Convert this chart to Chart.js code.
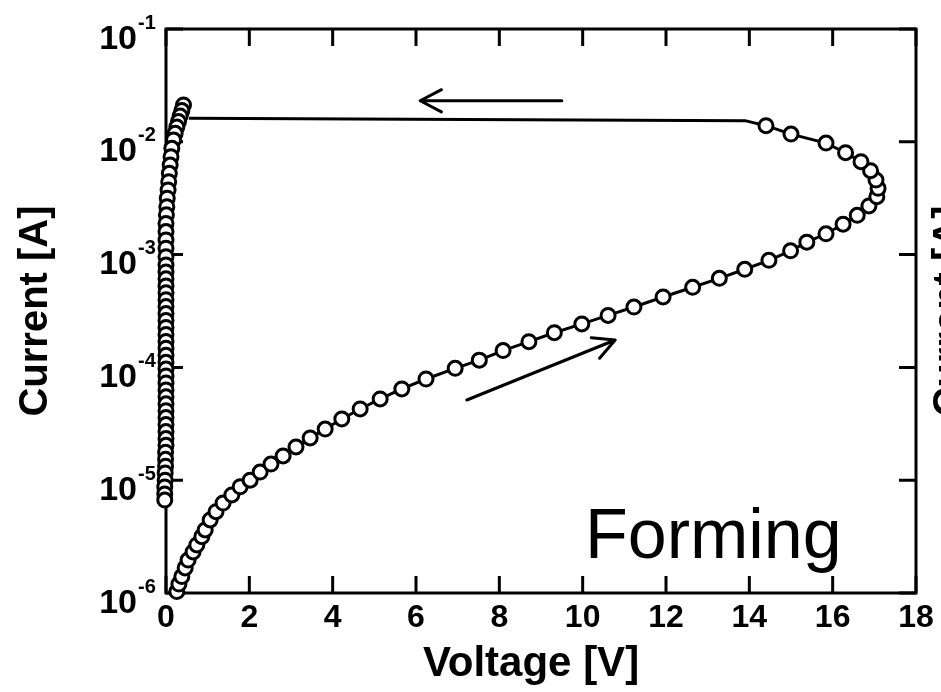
<!DOCTYPE html>
<html lang="en">
<head>
<meta charset="UTF-8">
<title>Forming I-V</title>
<script src="https://cdn.jsdelivr.net/npm/chart.js"></script>
<style>
  body { margin: 0; background: #ffffff; }
  canvas { display: block; }
</style>
</head>
<body>
<canvas id="ivChart" width="941" height="692"></canvas>
<script>
// forward sweep, open circles: 0 V up to ~17 V, then bending back to 14.4 V
const fwdVoltage = [0.26, 0.31, 0.38, 0.46, 0.53, 0.65, 0.74, 0.86, 0.94, 1.06,
  1.20, 1.37, 1.58, 1.78, 2.02, 2.26, 2.52, 2.81, 3.12, 3.46,
  3.82, 4.22, 4.66, 5.14, 5.66, 6.24, 6.94, 7.52, 8.09, 8.71,
  9.32, 9.98, 10.61, 11.23, 11.93, 12.64, 13.28, 13.89, 14.47, 14.99,
  15.38, 15.84, 16.25, 16.59, 16.87, 17.06, 17.09, 17.04, 16.91, 16.68,
  16.31, 15.84, 15.00, 14.40];
const fwdCurrent = [1.03e-6, 1.20e-6, 1.40e-6, 1.67e-6, 1.96e-6, 2.31e-6, 2.67e-6, 3.16e-6, 3.62e-6, 4.44e-6,
  5.26e-6, 6.28e-6, 7.40e-6, 8.75e-6, 1.00e-5, 1.18e-5, 1.39e-5, 1.64e-5, 1.97e-5, 2.37e-5,
  2.84e-5, 3.49e-5, 4.28e-5, 5.25e-5, 6.44e-5, 7.89e-5, 9.82e-5, 1.16e-4, 1.41e-4, 1.69e-4,
  2.03e-4, 2.43e-4, 2.89e-4, 3.43e-4, 4.21e-4, 5.13e-4, 6.16e-4, 7.41e-4, 8.90e-4, 1.08e-3,
  1.29e-3, 1.53e-3, 1.86e-3, 2.23e-3, 2.70e-3, 3.26e-3, 3.87e-3, 4.58e-3, 5.55e-3, 6.67e-3,
  8.00e-3, 9.75e-3, 1.17e-2, 1.39e-2];

// compliance line back towards 0 V (no markers)
const retVoltage = [14.40, 13.90, 0.55];
const retCurrent = [1.39e-2, 1.54e-2, 1.62e-2];

// sweep near 0 V, stacked circles falling from 2e-2 down to ~7e-6
const lowVoltage = [0.42, 0.38, 0.34, 0.30, 0.26, 0.22, 0.18, 0.14, 0.12, 0.10,
  0.08, 0.065, 0.05, 0.03, 0.02, 0.01, 0.0, 0.0, 0.0, 0.0,
  0.0, 0.0, 0.0, 0.0, 0.0, 0.0, 0.0, 0.0, 0.0, 0.0,
  0.0, 0.0, 0.0, 0.0, 0.0, 0.0, 0.0, 0.0, 0.0, 0.0,
  0.0, 0.0, 0.0, 0.0, 0.0, 0.0, 0.0, 0.0, -0.01, -0.01,
  -0.01, -0.02, -0.02, -0.03, -0.03, -0.03];
const lowCurrent = [2.12e-2, 1.89e-2, 1.69e-2, 1.51e-2, 1.35e-2, 1.19e-2, 1.04e-2, 8.75e-3, 7.38e-3, 6.22e-3,
  5.26e-3, 4.43e-3, 3.74e-3, 3.16e-3, 2.66e-3, 2.25e-3, 1.89e-3, 1.60e-3, 1.35e-3, 1.14e-3,
  9.58e-4, 8.09e-4, 7.02e-4, 6.10e-4, 5.28e-4, 4.59e-4, 3.98e-4, 3.46e-4, 3.00e-4, 2.61e-4,
  2.26e-4, 1.96e-4, 1.70e-4, 1.48e-4, 1.28e-4, 1.11e-4, 9.66e-5, 8.39e-5, 7.28e-5, 6.32e-5,
  5.48e-5, 4.76e-5, 4.13e-5, 3.59e-5, 3.11e-5, 2.70e-5, 2.34e-5, 2.04e-5, 1.77e-5, 1.53e-5,
  1.33e-5, 1.16e-5, 1.00e-5, 8.71e-6, 7.55e-6, 6.67e-6];

const xTicks = [0, 2, 4, 6, 8, 10, 12, 14, 16, 18];
const yExponents = [-6, -5, -4, -3, -2, -1];

// arrows, in data units [V, A]
const arrows = [
  { from: [9.5, 2.31e-2], to: [6.1, 2.31e-2] },
  { from: [7.22, 5.14e-5], to: [10.78, 1.75e-4] }
];

const FONT = "'Liberation Sans', Arial, sans-serif";
const TICK = 17;

function toXY(xs, ys) {
  return xs.map((x, i) => ({ x: x, y: ys[i] }));
}

const circleStyle = {
  borderColor: '#000',
  borderWidth: 3,
  pointRadius: 7,
  pointBorderWidth: 3,
  pointBackgroundColor: '#fff',
  pointBorderColor: '#000',
  clip: false
};

// frame, inward ticks and all the text
const framePlugin = {
  id: 'frame',
  beforeDatasetsDraw(chart) {
    const { ctx, chartArea: a, scales } = chart;
    ctx.save();
    ctx.strokeStyle = '#000';
    ctx.lineWidth = 3;
    ctx.strokeRect(a.left, a.top, a.right - a.left, a.bottom - a.top);
    ctx.beginPath();
    xTicks.forEach(v => {
      const px = scales.x.getPixelForValue(v);
      ctx.moveTo(px, a.bottom); ctx.lineTo(px, a.bottom - TICK);
      ctx.moveTo(px, a.top); ctx.lineTo(px, a.top + TICK);
    });
    yExponents.forEach(e => {
      const py = scales.y.getPixelForValue(Math.pow(10, e));
      ctx.moveTo(a.left, py); ctx.lineTo(a.left + TICK, py);
      ctx.moveTo(a.right, py); ctx.lineTo(a.right - TICK, py);
    });
    ctx.stroke();
    ctx.restore();
  },
  afterDraw(chart) {
    const { ctx, chartArea: a, scales } = chart;
    ctx.save();
    ctx.fillStyle = '#000';
    ctx.strokeStyle = '#000';

    // x tick labels
    ctx.font = 'bold 32px ' + FONT;
    ctx.textAlign = 'center';
    ctx.textBaseline = 'alphabetic';
    xTicks.forEach(v => {
      ctx.fillText(String(v), scales.x.getPixelForValue(v), a.bottom + 34);
    });

    // y tick labels 10^n
    yExponents.forEach(e => {
      const py = scales.y.getPixelForValue(Math.pow(10, e));
      ctx.font = 'bold 34px ' + FONT;
      ctx.textAlign = 'right';
      ctx.fillText('10', a.left - 29, py + 19.5);
      ctx.font = 'bold 20px ' + FONT;
      ctx.textAlign = 'left';
      ctx.fillText(String(e), a.left - 28, py - 0.5);
    });

    // axis titles
    ctx.font = 'bold 42px ' + FONT;
    ctx.textAlign = 'center';
    ctx.fillText('Voltage [V]', 531, 676);
    ctx.font = 'bold 40px ' + FONT;
    const midY = (a.top + a.bottom) / 2;
    [47, 961].forEach(bx => {
      ctx.save();
      ctx.translate(bx, midY);
      ctx.rotate(-Math.PI / 2);
      ctx.fillText('Current [A]', 0, 0);
      ctx.restore();
    });

    // label
    ctx.font = '70px ' + FONT;
    ctx.textAlign = 'left';
    ctx.fillText('Forming', 585, 558);

    // arrows
    ctx.lineWidth = 3;
    ctx.lineCap = 'round';
    ctx.lineJoin = 'round';
    arrows.forEach(ar => {
      const x0 = scales.x.getPixelForValue(ar.from[0]);
      const y0 = scales.y.getPixelForValue(ar.from[1]);
      const x1 = scales.x.getPixelForValue(ar.to[0]);
      const y1 = scales.y.getPixelForValue(ar.to[1]);
      const ang = Math.atan2(y1 - y0, x1 - x0);
      const hl = 24, hw = 0.48;
      ctx.beginPath();
      ctx.moveTo(x0, y0); ctx.lineTo(x1, y1);
      ctx.moveTo(x1 - hl * Math.cos(ang - hw), y1 - hl * Math.sin(ang - hw));
      ctx.lineTo(x1, y1);
      ctx.lineTo(x1 - hl * Math.cos(ang + hw), y1 - hl * Math.sin(ang + hw));
      ctx.stroke();
    });
    ctx.restore();
  }
};

const hiddenAxis = {
  grid: { display: false },
  border: { display: false },
  ticks: { display: false }
};

const ctx = document.getElementById('ivChart').getContext('2d');
const ivChart = new Chart(ctx, {
  type: 'line',
  data: {
    datasets: [
      Object.assign({ data: toXY(fwdVoltage, fwdCurrent) }, circleStyle),
      Object.assign({ data: toXY(lowVoltage, lowCurrent) }, circleStyle),
      { data: toXY(retVoltage, retCurrent), borderColor: '#000', borderWidth: 3, pointRadius: 0, clip: false }
    ]
  },
  options: {
    responsive: false,
    animation: false,
    events: [],
    layout: { padding: 0 },
    elements: { line: { tension: 0 } },
    plugins: { legend: { display: false }, tooltip: { enabled: false } },
    scales: {
      x: Object.assign({ type: 'linear', position: 'bottom', min: 0, max: 18,
        afterFit: s => { s.height = 99; } }, hiddenAxis),
      x2: Object.assign({ type: 'linear', position: 'top', min: 0, max: 18,
        afterFit: s => { s.height = 29; } }, hiddenAxis),
      y: Object.assign({ type: 'logarithmic', position: 'left', min: 1e-6, max: 1e-1,
        afterFit: s => { s.width = 166; } }, hiddenAxis),
      y2: Object.assign({ type: 'logarithmic', position: 'right', min: 1e-6, max: 1e-1,
        afterFit: s => { s.width = 25; } }, hiddenAxis)
    }
  },
  plugins: [framePlugin]
});
</script>
</body>
</html>
